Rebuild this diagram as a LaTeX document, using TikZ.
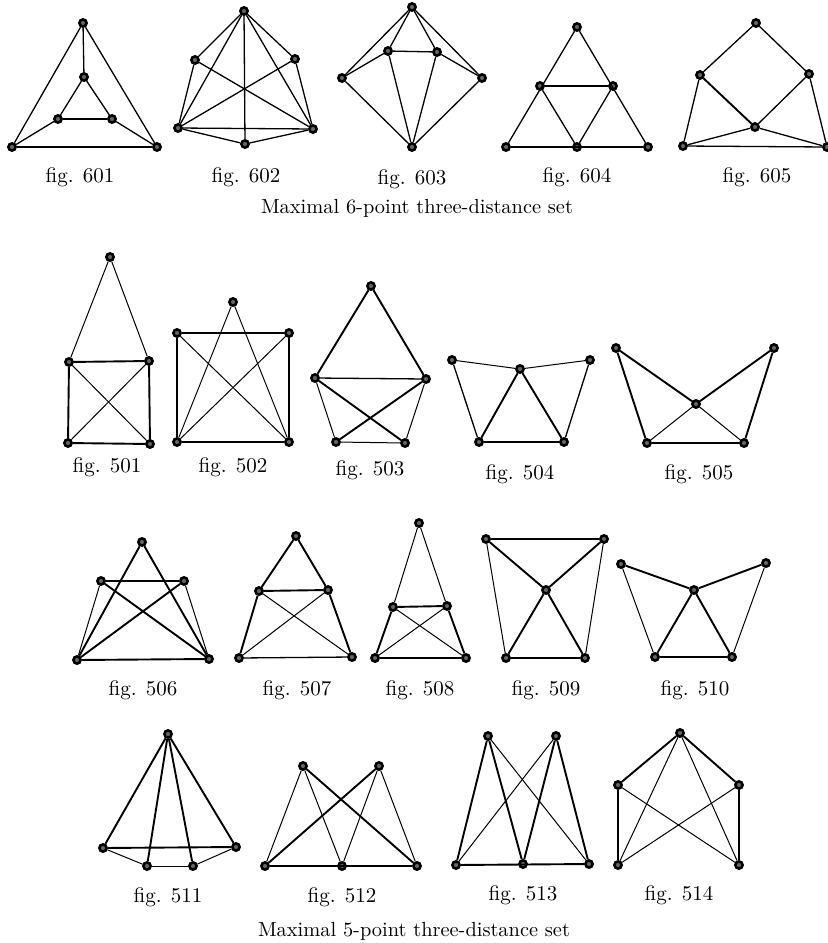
\documentclass[tikz,border=0pt]{standalone}
\usepackage{tikz}

\tikzset{
  vtx/.style={circle, draw=black, fill=black!60, line width=1.3pt, inner sep=0pt, minimum size=3.6pt},
  seg/.style={line width=0.5pt},
  segm/.style={line width=0.65pt},
  segb/.style={line width=0.95pt},
  lbl/.style={font=\fontsize{10.5}{12}\selectfont, inner sep=0pt},
  capt/.style={font=\fontsize{10.2}{12}\selectfont, inner sep=0pt}
}

\begin{document}
\begin{tikzpicture}[x=0.5pt, y=-0.5pt]
  \useasboundingbox (0,0) rectangle (828,943);

  % fig. 601
  \node[vtx] (f601t) at (83,23) {};
  \node[vtx] (f601i) at (84,77) {};
  \node[vtx] (f601l) at (58,119) {};
  \node[vtx] (f601r) at (112,119) {};
  \node[vtx] (f601a) at (12,147) {};
  \node[vtx] (f601b) at (157,147) {};
  \foreach \u/\v in {t/a, t/b, a/b, t/i, i/l, i/r, l/r, l/a, r/b}
    \draw[segm] (f601\u) -- (f601\v);
  \node[lbl] (c601) at (80,177) {fig. 601};

  % fig. 602
  \node[vtx] (f602t) at (244,11) {};
  \node[vtx] (f602l) at (195,60) {};
  \node[vtx] (f602r) at (295,59) {};
  \node[vtx] (f602a) at (178,128) {};
  \node[vtx] (f602b) at (313,129) {};
  \node[vtx] (f602m) at (245,144) {};
  \foreach \u/\v in {t/l, t/r, t/a, t/b, t/m, l/a, r/b, l/b, r/a, a/b, a/m, m/b}
    \draw[segm] (f602\u) -- (f602\v);
  \node[lbl] (c602) at (246,177) {fig. 602};

  % fig. 603
  \node[vtx] (f603t) at (412,7) {};
  \node[vtx] (f603l) at (388,51) {};
  \node[vtx] (f603r) at (437,52) {};
  \node[vtx] (f603a) at (342,78) {};
  \node[vtx] (f603b) at (482,78) {};
  \node[vtx] (f603m) at (412,147) {};
  \foreach \u/\v in {t/a, t/b, t/l, t/r, l/r, a/l, b/r, a/m, b/m, l/m, r/m}
    \draw[segm] (f603\u) -- (f603\v);
  \node[lbl] (c603) at (412,179) {fig. 603};

  % fig. 604
  \node[vtx] (f604t) at (577,27) {};
  \node[vtx] (f604l) at (540,86) {};
  \node[vtx] (f604r) at (613,86) {};
  \node[vtx] (f604a) at (506,147) {};
  \node[vtx] (f604m) at (577,147) {};
  \node[vtx] (f604b) at (648,147) {};
  \foreach \u/\v in {t/a, t/b, l/r, l/m, r/m, a/b}
    \draw[segm] (f604\u) -- (f604\v);
  \node[lbl] (c604) at (577,177) {fig. 604};

  % fig. 605
  \node[vtx] (f605t) at (756,23) {};
  \node[vtx] (f605l) at (700,75) {};
  \node[vtx] (f605r) at (809,74) {};
  \node[vtx] (f605c) at (755,127) {};
  \node[vtx] (f605a) at (683,146) {};
  \node[vtx] (f605b) at (827,147) {};
  \foreach \u/\v in {t/l, t/r, r/c, l/a, r/b, a/c, c/b, a/b}
    \draw[segm] (f605\u) -- (f605\v);
  \draw[segb] (f605l) -- (f605c);
  \node[lbl] (c605) at (757,177) {fig. 605};

  \node[capt] (cap6) at (417,208) {Maximal 6-point three-distance set};

  % fig. 501
  \node[vtx] (f501t) at (110,257) {};
  \node[vtx] (f501l) at (69,362) {};
  \node[vtx] (f501r) at (149,361) {};
  \node[vtx] (f501a) at (68,443) {};
  \node[vtx] (f501b) at (150,444) {};
  \foreach \u/\v in {t/l, t/r, l/b, r/a}
    \draw[seg] (f501\u) -- (f501\v);
  \foreach \u/\v in {l/r, l/a, r/b, a/b}
    \draw[segb] (f501\u) -- (f501\v);
  \node[lbl] (c501) at (107,467) {fig. 501};

  % fig. 502
  \node[vtx] (f502t) at (233,302) {};
  \node[vtx] (f502l) at (177,333) {};
  \node[vtx] (f502r) at (289,333) {};
  \node[vtx] (f502a) at (177,442) {};
  \node[vtx] (f502b) at (289,442) {};
  \foreach \u/\v in {t/a, t/b, l/b, r/a}
    \draw[seg] (f502\u) -- (f502\v);
  \foreach \u/\v in {l/r, l/a, r/b, a/b}
    \draw[segb] (f502\u) -- (f502\v);
  \node[lbl] (c502) at (233,467) {fig. 502};

  % fig. 503
  \node[vtx] (f503t) at (371,286) {};
  \node[vtx] (f503l) at (315,378) {};
  \node[vtx] (f503r) at (426,379) {};
  \node[vtx] (f503a) at (336,442) {};
  \node[vtx] (f503b) at (405,443) {};
  \foreach \u/\v in {l/a, r/b, a/b}
    \draw[seg] (f503\u) -- (f503\v);
  \draw[segm] (f503l) -- (f503r);
  \foreach \u/\v in {t/l, t/r, l/b, r/a}
    \draw[segb] (f503\u) -- (f503\v);
  \node[lbl] (c503) at (370,470) {fig. 503};

  % fig. 504
  \node[vtx] (f504l) at (452,360) {};
  \node[vtx] (f504r) at (590,360) {};
  \node[vtx] (f504m) at (520,369) {};
  \node[vtx] (f504a) at (479,442) {};
  \node[vtx] (f504b) at (564,442) {};
  \foreach \u/\v in {l/m, m/r}
    \draw[seg] (f504\u) -- (f504\v);
  \foreach \u/\v in {l/a, r/b}
    \draw[segm] (f504\u) -- (f504\v);
  \foreach \u/\v in {m/a, m/b, a/b}
    \draw[segb] (f504\u) -- (f504\v);
  \node[lbl] (c504) at (520,474) {fig. 504};

  % fig. 505
  \node[vtx] (f505l) at (616,348) {};
  \node[vtx] (f505r) at (774,348) {};
  \node[vtx] (f505m) at (696,404) {};
  \node[vtx] (f505a) at (647,443) {};
  \node[vtx] (f505b) at (744,443) {};
  \foreach \u/\v in {m/a, m/b}
    \draw[seg] (f505\u) -- (f505\v);
  \draw[segm] (f505a) -- (f505b);
  \foreach \u/\v in {l/m, m/r, l/a, r/b}
    \draw[segb] (f505\u) -- (f505\v);
  \node[lbl] (c505) at (699,474) {fig. 505};

  % fig. 506
  \node[vtx] (f506t) at (142,542) {};
  \node[vtx] (f506l) at (101,581) {};
  \node[vtx] (f506r) at (184,581) {};
  \node[vtx] (f506a) at (77,660) {};
  \node[vtx] (f506b) at (209,659) {};
  \foreach \u/\v in {l/a, r/b}
    \draw[seg] (f506\u) -- (f506\v);
  \draw[segm] (f506l) -- (f506r);
  \foreach \u/\v in {t/a, t/b, l/b, r/a, a/b}
    \draw[segb] (f506\u) -- (f506\v);
  \node[lbl] (c506) at (143,690) {fig. 506};

  % fig. 507
  \node[vtx] (f507t) at (296,536) {};
  \node[vtx] (f507l) at (259,591) {};
  \node[vtx] (f507r) at (328,590) {};
  \node[vtx] (f507a) at (239,658) {};
  \node[vtx] (f507b) at (352,657) {};
  \foreach \u/\v in {l/b, r/a}
    \draw[seg] (f507\u) -- (f507\v);
  \draw[segm] (f507a) -- (f507b);
  \foreach \u/\v in {t/l, t/r, l/r, l/a, r/b}
    \draw[segb] (f507\u) -- (f507\v);
  \node[lbl] (c507) at (297,690) {fig. 507};

  % fig. 508
  \node[vtx] (f508t) at (419,523) {};
  \node[vtx] (f508l) at (393,607) {};
  \node[vtx] (f508r) at (447,606) {};
  \node[vtx] (f508a) at (375,658) {};
  \node[vtx] (f508b) at (466,658) {};
  \foreach \u/\v in {t/l, t/r, l/b, r/a}
    \draw[seg] (f508\u) -- (f508\v);
  \draw[segm] (f508a) -- (f508b);
  \foreach \u/\v in {l/r, l/a, r/b}
    \draw[segb] (f508\u) -- (f508\v);
  \node[lbl] (c508) at (420,690) {fig. 508};

  % fig. 509
  \node[vtx] (f509l) at (486,539) {};
  \node[vtx] (f509r) at (604,539) {};
  \node[vtx] (f509m) at (546,590) {};
  \node[vtx] (f509a) at (506,658) {};
  \node[vtx] (f509b) at (585,658) {};
  \foreach \u/\v in {l/a, r/b}
    \draw[seg] (f509\u) -- (f509\v);
  \draw[segm] (f509l) -- (f509r);
  \foreach \u/\v in {l/m, r/m, m/a, m/b, a/b}
    \draw[segb] (f509\u) -- (f509\v);
  \node[lbl] (c509) at (546,690) {fig. 509};

  % fig. 510
  \node[vtx] (f510l) at (621,564) {};
  \node[vtx] (f510r) at (766,563) {};
  \node[vtx] (f510m) at (694,590) {};
  \node[vtx] (f510a) at (655,657) {};
  \node[vtx] (f510b) at (732,657) {};
  \foreach \u/\v in {l/a, r/b}
    \draw[seg] (f510\u) -- (f510\v);
  \draw[segm] (f510a) -- (f510b);
  \foreach \u/\v in {l/m, m/r, m/a, m/b}
    \draw[segb] (f510\u) -- (f510\v);
  \node[lbl] (c510) at (695,690) {fig. 510};

  % fig. 511
  \node[vtx] (f511t) at (168,734) {};
  \node[vtx] (f511l) at (103,848) {};
  \node[vtx] (f511r) at (236,847) {};
  \node[vtx] (f511a) at (147,866) {};
  \node[vtx] (f511b) at (193,866) {};
  \foreach \u/\v in {l/a, a/b, b/r}
    \draw[seg] (f511\u) -- (f511\v);
  \foreach \u/\v in {t/l, t/r, t/a, t/b, l/r}
    \draw[segb] (f511\u) -- (f511\v);
  \node[lbl] (c511) at (168,897) {fig. 511};

  % fig. 512
  \node[vtx] (f512l) at (303,766) {};
  \node[vtx] (f512r) at (379,766) {};
  \node[vtx] (f512a) at (265,866) {};
  \node[vtx] (f512m) at (342,866) {};
  \node[vtx] (f512b) at (417,866) {};
  \foreach \u/\v in {l/a, l/m, r/m, r/b}
    \draw[seg] (f512\u) -- (f512\v);
  \foreach \u/\v in {l/b, r/a, a/b}
    \draw[segb] (f512\u) -- (f512\v);
  \node[lbl] (c512) at (342,897) {fig. 512};

  % fig. 513
  \node[vtx] (f513l) at (488,736) {};
  \node[vtx] (f513r) at (556,736) {};
  \node[vtx] (f513a) at (456,865) {};
  \node[vtx] (f513m) at (523,864) {};
  \node[vtx] (f513b) at (589,864) {};
  \foreach \u/\v in {l/b, r/a}
    \draw[seg] (f513\u) -- (f513\v);
  \foreach \u/\v in {l/a, l/m, r/m, r/b, a/b}
    \draw[segb] (f513\u) -- (f513\v);
  \node[lbl] (c513) at (523,895) {fig. 513};

  % fig. 514
  \node[vtx] (f514t) at (680,733) {};
  \node[vtx] (f514l) at (618,785) {};
  \node[vtx] (f514r) at (739,785) {};
  \node[vtx] (f514a) at (618,865) {};
  \node[vtx] (f514b) at (739,865) {};
  \foreach \u/\v in {t/a, t/b, l/b, r/a}
    \draw[seg] (f514\u) -- (f514\v);
  \foreach \u/\v in {t/l, t/r, l/a, r/b}
    \draw[segb] (f514\u) -- (f514\v);
  \node[lbl] (c514) at (679,895) {fig. 514};

  \node[capt] (cap5) at (414,931) {Maximal 5-point three-distance set};
\end{tikzpicture}
\end{document}
